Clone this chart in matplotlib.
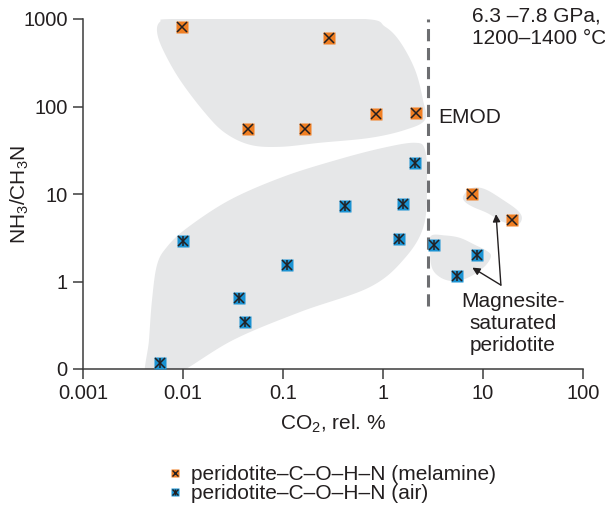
import numpy as np
import matplotlib
matplotlib.use("Agg")
import matplotlib.pyplot as plt
from matplotlib.lines import Line2D
from matplotlib.legend_handler import HandlerTuple

plt.rcParams['font.family'] = ['Liberation Sans', 'DejaVu Sans']
plt.rcParams['font.size'] = 14.5
plt.rcParams['mathtext.default'] = 'regular'

# experiments: CO2 (rel. %) vs NH3/CH3N
melamine_co2 = [0.0098, 0.29, 0.045, 0.165, 0.85, 2.15, 7.7, 19.4]
melamine_ratio = [800, 610, 56, 56, 83, 85, 10, 5.1]
air_co2 = [2.09, 0.42, 1.6, 1.46, 3.24, 8.7, 5.45, 0.01, 0.109, 0.036, 0.042, 0.0059]
air_ratio = [22.7, 7.2, 7.6, 3.1, 2.64, 2.03, 1.15, 2.93, 1.53, 0.64, 0.34, 0.116]

# shaded fields (outline vertices)
field_top_co2 = [0.0078, 0.0059, 0.0055, 0.0063, 0.0093, 0.0166, 0.0263, 0.0468, 0.0933,
                 0.234, 0.741, 1.66, 2.63, 2.51, 2.09, 1.48, 1.05, 0.66, 0.07]
field_top_ratio = [1000, 931, 716, 446, 202, 84.5, 50, 36.5, 34.6,
                   38.5, 43.8, 54, 70.5, 119, 263, 550, 817, 1000, 1000]
field_mid_co2 = [0.00427, 0.00457, 0.0049, 0.0055, 0.0069, 0.011, 0.0295, 0.1, 0.347, 1.0,
                 2.09, 2.63, 2.75, 2.57, 1.66, 0.741, 0.148, 0.0316, 0.0083]
field_mid_ratio = [0.075, 0.214, 0.615, 1.55, 2.48, 4.1, 8.57, 15.7, 24.6, 33.7,
                   38.5, 32, 14.5, 4.43, 1.86, 0.865, 0.448, 0.214, 0.085]
field_mgs_air_co2 = [3.02, 4.17, 5.89, 8.32, 10.96, 12.0, 10.96, 8.91, 6.61, 4.9, 3.72, 3.09, 2.95]
field_mgs_air_ratio = [3.32, 3.36, 3.15, 2.62, 2.23, 1.96, 1.59, 1.29, 1.07, 1.01, 1.12, 1.43, 2.29]
field_mgs_mel_co2 = [6.31, 7.08, 8.51, 10.96, 15.85, 21.9, 24.5, 21.9, 15.85, 10.96, 7.94, 6.61]
field_mgs_mel_ratio = [9.27, 11.1, 11.9, 11.1, 8.57, 6.58, 5.33, 4.43, 4.8, 6.08, 7.11, 8.13]

emod_co2 = 2.8
emod_ratio = [0.52, 1000]

x_ticks = [0.001, 0.01, 0.1, 1, 10, 100]
x_labels = ['0.001', '0.01', '0.1', '1', '10', '100']
y_ticks = [0.1, 1, 10, 100, 1000]
y_labels = ['0', '1', '10', '100', '1000']

orange = '#f07f23'
blue = '#1a93d3'
dark = '#231f20'
field = '#e6e7e8'


def smooth_outline(xs, ys, n=24):
    # closed Catmull-Rom curve through the vertices, in log-log space
    p = np.log10(np.column_stack([xs, ys]))
    m = len(p)
    t = np.linspace(0, 1, n, endpoint=False)[:, None]
    segs = []
    for i in range(m):
        p0, p1, p2, p3 = p[i - 1], p[i], p[(i + 1) % m], p[(i + 2) % m]
        segs.append(0.5 * (2 * p1 + (p2 - p0) * t
                           + (2 * p0 - 5 * p1 + 4 * p2 - p3) * t ** 2
                           + (3 * p1 - p0 - 3 * p2 + p3) * t ** 3))
    out = 10 ** np.vstack(segs)
    return out[:, 0], out[:, 1]


fig = plt.figure(figsize=(6.05, 5.14), dpi=100)
ax = fig.add_axes([83 / 605, 145 / 514, 500 / 605, 350 / 514])
ax.set_xscale('log')
ax.set_yscale('log')
ax.set_xlim(0.001, 100)
ax.set_ylim(0.1, 1000)

for fx, fy in [(field_top_co2, field_top_ratio), (field_mid_co2, field_mid_ratio),
               (field_mgs_air_co2, field_mgs_air_ratio), (field_mgs_mel_co2, field_mgs_mel_ratio)]:
    sx, sy = smooth_outline(fx, fy)
    ax.fill(sx, sy, color=field, lw=0, zorder=0)

ax.vlines(emod_co2, emod_ratio[0], emod_ratio[1], colors='#6d6e71', lw=2.2,
          linestyles=(0, (4, 2.2)), zorder=1)
ax.text(3.55, 74, 'EMOD', ha='left', va='center', fontsize=15, color=dark)

ax.plot(melamine_co2, melamine_ratio, ls='none', marker='s', ms=8, mfc=orange, mec='none', zorder=3)
ax.plot(melamine_co2, melamine_ratio, ls='none', marker='x', ms=7, mec=dark, mew=1.1, zorder=4)
ax.plot(air_co2, air_ratio, ls='none', marker='s', ms=8, mfc=blue, mec='none', zorder=3)
ax.plot(air_co2, air_ratio, ls='none', marker='x', ms=7, mec=dark, mew=1.1, zorder=4)
ax.plot(air_co2, air_ratio, ls='none', marker='|', ms=7, mec=dark, mew=1.1, zorder=4)

ax.text(20, 0.335, 'Magnesite-\nsaturated\nperidotite', ha='center', va='center',
        fontsize=15, color=dark, linespacing=1.2)
arrow = dict(arrowstyle='-|>', color=dark, lw=1.0, mutation_scale=11, shrinkA=0, shrinkB=0)
ax.annotate('', xy=(13.5, 5.88), xytext=(15.1, 0.91), arrowprops=arrow)
ax.annotate('', xy=(7.82, 1.44), xytext=(15.1, 0.91), arrowprops=arrow)

fig.text(472 / 605, 1 - 7 / 514, '6.3 \u20137.8 GPa,\n1200\u20131400 \u00b0C', ha='left', va='top',
         fontsize=15, color=dark, linespacing=1.2)

for side in ['top', 'right']:
    ax.spines[side].set_visible(False)
for side in ['left', 'bottom']:
    ax.spines[side].set_color('#3c3c3c')
    ax.spines[side].set_linewidth(1.1)
ax.set_xticks(x_ticks)
ax.set_xticklabels(x_labels)
ax.set_yticks(y_ticks)
ax.set_yticklabels(y_labels)
ax.minorticks_off()
ax.tick_params(direction='out', length=7, width=1.1, color='#3c3c3c', labelcolor=dark,
               labelsize=14.5, pad=4)

ax.set_xlabel('CO$_2$, rel. %', fontsize=15, color=dark)
ax.set_ylabel('NH$_3$/CH$_3$N', fontsize=15, color=dark)
ax.xaxis.set_label_coords(0.5, -0.125)
ax.yaxis.set_label_coords(-0.104, 0.5)

handles = [
    (Line2D([], [], ls='none', marker='s', ms=6, mfc=orange, mec='none'),
     Line2D([], [], ls='none', marker='x', ms=5, mec=dark, mew=1)),
    (Line2D([], [], ls='none', marker='s', ms=6, mfc=blue, mec='none'),
     Line2D([], [], ls='none', marker='x', ms=5, mec=dark, mew=1),
     Line2D([], [], ls='none', marker='|', ms=5, mec=dark, mew=1)),
]
labels = ['peridotite\u2013C\u2013O\u2013H\u2013N (melamine)', 'peridotite\u2013C\u2013O\u2013H\u2013N (air)']
fig.legend(handles, labels, handler_map={tuple: HandlerTuple(ndivide=1)},
           loc='upper left', bbox_to_anchor=(169 / 605, 1 - 465 / 514), frameon=False,
           handlelength=0.6, handletextpad=0.45, labelspacing=0.0, borderpad=0,
           borderaxespad=0, fontsize=15, labelcolor=dark)

fig.savefig('out.png', dpi=100)
